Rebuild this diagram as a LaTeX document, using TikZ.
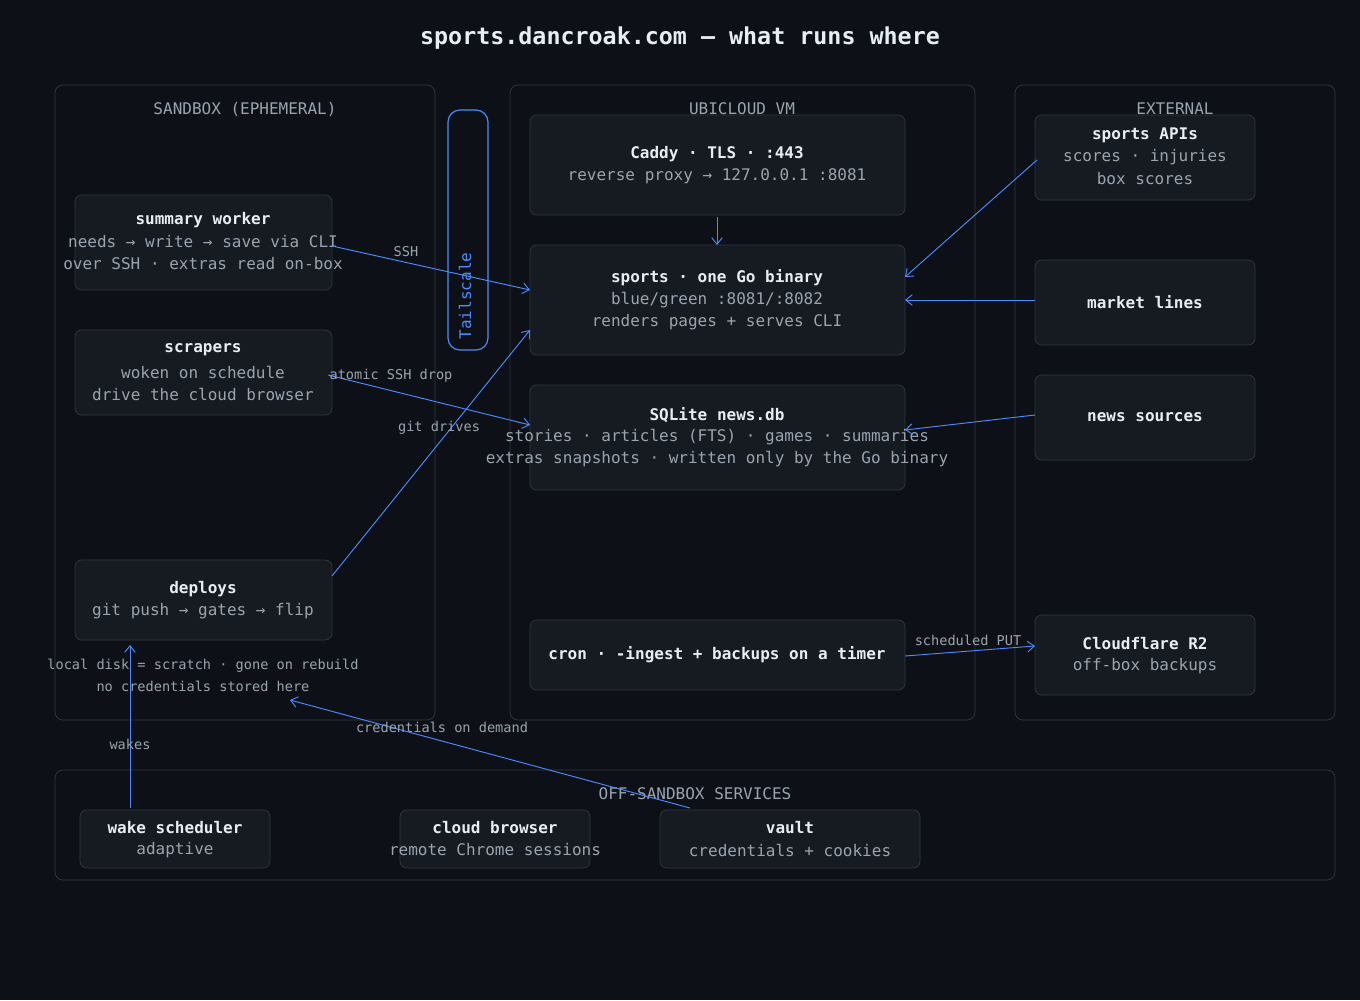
\documentclass[tikz,border=0pt]{standalone}
\usepackage{fontspec}
\setmainfont{DejaVu Sans Mono}
\usetikzlibrary{arrows.meta}
\definecolor{bg}{HTML}{0D1117}
\definecolor{boxf}{HTML}{161B22}
\definecolor{boxd}{HTML}{30363D}
\definecolor{blu}{HTML}{4A8CFF}
\definecolor{wt}{HTML}{E6EDF3}
\definecolor{gr}{HTML}{9AA4AE}
\begin{document}
\begin{tikzpicture}[x=0.75pt,y=-0.75pt,
 panel/.style={draw=boxd,rounded corners=6pt,line width=0.6pt},
 box/.style={draw=boxd,fill=boxf,rounded corners=5pt,line width=0.6pt},
 pl/.style={text=gr,font=\fontsize{12}{13}\selectfont},
 t/.style={text=wt,font=\fontsize{12}{13}\selectfont\bfseries},
 s/.style={text=gr,font=\fontsize{12}{13}\selectfont},
 sm/.style={text=gr,font=\fontsize{10.2}{11}\selectfont},
 ar/.style={draw=blu,line width=0.7pt,-{Straight Barb[length=5pt,width=8pt]}}]
\fill[bg] (0,0) rectangle (1360,1000);
\useasboundingbox (0,0) rectangle (1360,1000);
\node[text=wt,font=\fontsize{17.5}{19}\selectfont\bfseries] (title) at (680,38) {sports.dancroak.com — what runs where};
% panels
\draw[panel] (55,85) rectangle (435,720);
\node[pl] (p1) at (245,109) {SANDBOX (EPHEMERAL)};
\draw[panel] (510,85) rectangle (975,720);
\node[pl] (p2) at (742,109) {UBICLOUD VM};
\draw[panel] (1015,85) rectangle (1335,720);
\node[pl] (p3) at (1175,109) {EXTERNAL};
\draw[panel] (55,770) rectangle (1335,880);
\node[pl] (p4) at (695,794) {OFF-SANDBOX SERVICES};
% tailscale
\draw[draw=blu,line width=0.9pt,rounded corners=9pt] (448,110) rectangle (488,350);
\node[text=blu,rotate=90,font=\fontsize{12}{13}\selectfont] (ts) at (465,296) {Tailscale};
% boxes
\draw[box] (75,195) rectangle (332,290);
\node[t] (sw1) at (203,220) {summary worker};
\node[s] (sw2) at (203,242) {needs → write → save via CLI};
\node[s] (sw3) at (203,264) {over SSH · extras read on-box};
\draw[box] (75,330) rectangle (332,415);
\node[t] (sc1) at (203,350) {scrapers};
\node[s] (sc2) at (203,372) {woken on schedule};
\node[s] (sc3) at (203,394) {drive the cloud browser};
\draw[box] (75,560) rectangle (332,640);
\node[t] (dp1) at (203,589) {deploys};
\node[s] (dp2) at (203,611) {git push → gates → flip};
\node[sm] (n1) at (203,666) {local disk = scratch · gone on rebuild};
\node[sm] (n2) at (203,686) {no credentials stored here};
\draw[box] (530,115) rectangle (905,215);
\node[t] (cd1) at (717,154) {Caddy · TLS · :443};
\node[s] (cd2) at (717,176) {reverse proxy → 127.0.0.1 :8081};
\draw[box] (530,245) rectangle (905,355);
\node[t] (sp1) at (717,278) {sports · one Go binary};
\node[s] (sp2) at (717,300) {blue/green :8081/:8082};
\node[s] (sp3) at (717,322) {renders pages + serves CLI};
\draw[box] (530,385) rectangle (905,490);
\node[t] (db1) at (717,415) {SQLite news.db};
\node[s] (db2) at (717,437) {stories · articles (FTS) · games · summaries};
\node[s] (db3) at (717,459) {extras snapshots · written only by the Go binary};
\draw[box] (530,620) rectangle (905,690);
\node[t] (cr) at (717,655) {cron · -ingest + backups on a timer};
\draw[box] (1035,115) rectangle (1255,200);
\node[t] (ap1) at (1145,135) {sports APIs};
\node[s] (ap2) at (1145,157) {scores · injuries};
\node[s] (ap3) at (1145,179) {box scores};
\draw[box] (1035,260) rectangle (1255,345);
\node[t] (ml) at (1145,302) {market lines};
\draw[box] (1035,375) rectangle (1255,460);
\node[t] (ns) at (1145,417) {news sources};
\draw[box] (1035,615) rectangle (1255,695);
\node[t] (cf1) at (1145,644) {Cloudflare R2};
\node[s] (cf2) at (1145,666) {off-box backups};
\draw[box] (80,810) rectangle (270,868);
\node[t] (ws1) at (175,828) {wake scheduler};
\node[s] (ws2) at (175,850) {adaptive};
\draw[box] (400,810) rectangle (590,868);
\node[t] (cb1) at (495,828) {cloud browser};
\node[s] (cb2) at (495,850) {remote Chrome sessions};
\draw[box] (660,810) rectangle (920,868);
\node[t] (v1) at (790,828) {vault};
\node[s] (v2) at (790,850) {credentials + cookies};
% endpoints
\coordinate (a1) at (332,246); \coordinate (b1) at (530,290);
\coordinate (a2) at (328,375); \coordinate (b2) at (530,425);
\coordinate (a3) at (332,576); \coordinate (b3) at (530,330);
\coordinate (a4) at (717,217); \coordinate (b4) at (717,245);
\coordinate (a5) at (1037,160); \coordinate (b5) at (905,277);
\coordinate (a6) at (1035,300); \coordinate (b6) at (905,300);
\coordinate (a7) at (1035,415); \coordinate (b7) at (905,430);
\coordinate (a8) at (905,656); \coordinate (b8) at (1035,646);
\coordinate (a9) at (130,808); \coordinate (b9) at (130,645);
\coordinate (a10) at (690,808); \coordinate (b10) at (290,700);
\draw[ar] (a1) -- (b1);
\draw[ar] (a2) -- (b2);
\draw[ar] (a3) -- (b3);
\draw[ar] (a4) -- (b4);
\draw[ar] (a5) -- (b5);
\draw[ar] (a6) -- (b6);
\draw[ar] (a7) -- (b7);
\draw[ar] (a8) -- (b8);
\draw[ar] (a9) -- (b9);
\draw[ar] (a10) -- (b10);
\node[sm] (l1) at (406,252) {SSH};
\node[sm] (l2) at (391,376) {atomic SSH drop};
\node[sm] (l3) at (439,428) {git drives};
\node[sm] (l4) at (968,640) {scheduled PUT};
\node[sm] (l5) at (130,744) {wakes};
\node[sm] (l6) at (442,727) {credentials on demand};
\end{tikzpicture}
\end{document}
